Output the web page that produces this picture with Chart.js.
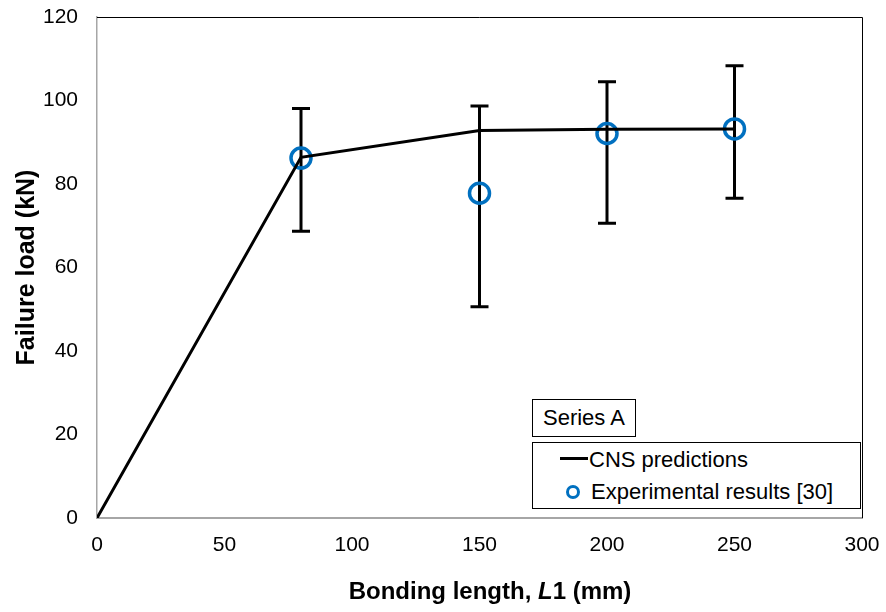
<!DOCTYPE html>
<html>
<head>
<meta charset="utf-8">
<script src="https://cdn.jsdelivr.net/npm/chart.js@4"></script>
<style>
  body { margin: 0; background: #fff; }
  #wrap { position: relative; width: 886px; height: 612px; font-family: "Liberation Sans", Arial, sans-serif; color: #000; }
  #chart { position: absolute; left: 0; top: 0; }
  .box { position: absolute; border: 1px solid #000; background: #fff; box-sizing: border-box; }
  .txt { position: absolute; font-size: 22px; line-height: 22px; white-space: nowrap; }
  #xtitle { position: absolute; left: 290px; width: 400px; top: 579px; text-align: center; font-size: 24px; line-height: 24px; font-weight: bold; }
</style>
</head>
<body>
<div id="wrap">
  <canvas id="chart" width="886" height="612"></canvas>
  <div class="box" style="left:532px;top:399px;width:104px;height:38px;"></div>
  <div class="txt" style="left:543px;top:407px;">Series A</div>
  <div class="box" style="left:532px;top:442px;width:329px;height:67px;"></div>
  <div style="position:absolute;left:560px;top:457px;width:28px;height:3px;background:#000;"></div>
  <div class="txt" style="left:589px;top:449px;">CNS predictions</div>
  <div style="position:absolute;left:566px;top:485px;width:14px;height:14px;border:3.5px solid #0070C0;border-radius:50%;box-sizing:border-box;"></div>
  <div class="txt" style="left:591px;top:481px;">Experimental results [30]</div>
  <div id="xtitle">Bonding length, <i>L</i>1 (mm)</div>
</div>
<script>
// valores
const cnsLength = [0, 80, 150, 200, 250];
const cnsLoad = [0, 86.4, 92.8, 93.1, 93.2];

const expLength = [80, 150, 200, 250];
const expLoad = [86.2, 77.8, 92.1, 93.2];
const errLow = [68.7, 50.6, 70.6, 76.6];
const errHigh = [98.1, 98.7, 104.5, 108.3];

const xMin = 0, xMax = 300, xStep = 50;
const yMin = 0, yMax = 120, yStep = 20;

// barras de erro e moldura da área do gráfico
const errorBars = {
    id: 'errorBars',
    beforeDatasetsDraw(chart) {
        const ctx = chart.ctx;
        const xs = chart.scales.x, ys = chart.scales.y;
        ctx.save();
        ctx.strokeStyle = '#000';
        ctx.lineWidth = 3;
        expLength.forEach((len, i) => {
            const px = xs.getPixelForValue(len);
            const top = ys.getPixelForValue(errHigh[i]);
            const bot = ys.getPixelForValue(errLow[i]);
            ctx.beginPath();
            ctx.moveTo(px, top); ctx.lineTo(px, bot);
            ctx.moveTo(px - 9, top); ctx.lineTo(px + 9, top);
            ctx.moveTo(px - 9, bot); ctx.lineTo(px + 9, bot);
            ctx.stroke();
        });
        ctx.restore();
    },
    afterDraw(chart) {
        const ctx = chart.ctx;
        const a = chart.chartArea;
        ctx.save();
        ctx.strokeStyle = '#000';
        ctx.lineWidth = 1;
        ctx.beginPath();
        ctx.moveTo(a.left, a.top + 0.5);
        ctx.lineTo(a.right + 0.5, a.top + 0.5);
        ctx.lineTo(a.right + 0.5, a.bottom);
        ctx.stroke();
        ctx.restore();
    }
};

const ctx = document.getElementById('chart').getContext('2d');
new Chart(ctx, {
    type: 'line',
    data: {
        datasets: [{
            label: 'CNS predictions',
            data: cnsLength.map((x, i) => ({ x: x, y: cnsLoad[i] })),
            borderColor: '#000',
            borderWidth: 3,
            pointRadius: 0,
            tension: 0
        }, {
            label: 'Experimental results [30]',
            data: expLength.map((x, i) => ({ x: x, y: expLoad[i] })),
            showLine: false,
            pointRadius: 10,
            pointBorderWidth: 3.5,
            pointBorderColor: '#0070C0',
            pointBackgroundColor: 'rgba(0,0,0,0)'
        }]
    },
    options: {
        responsive: false,
        animation: false,
        layout: { padding: { top: 17, right: 24, left: 0, bottom: 0 } },
        plugins: { legend: { display: false }, tooltip: { enabled: false } },
        scales: {
            x: {
                type: 'linear',
                min: xMin, max: xMax,
                ticks: { stepSize: xStep, padding: 15, color: '#000', font: { family: 'Liberation Sans', size: 21 } },
                grid: { drawOnChartArea: false, drawTicks: false },
                border: { color: '#A6A6A6', width: 2 },
                afterFit(scale) { scale.height = 94; scale.paddingLeft = 0; scale.paddingRight = 0; }
            },
            y: {
                min: yMin, max: yMax,
                ticks: { stepSize: yStep, padding: 19, color: '#000', font: { family: 'Liberation Sans', size: 21 } },
                grid: { drawOnChartArea: false, drawTicks: false },
                border: { color: '#A6A6A6', width: 1.5 },
                title: {
                    display: true,
                    text: 'Failure load (kN)',
                    color: '#000',
                    padding: { top: 12, bottom: 0 },
                    font: { family: 'Liberation Sans', size: 25, weight: 'bold' }
                },
                afterFit(scale) { scale.width = 97; scale.paddingTop = 0; scale.paddingBottom = 0; }
            }
        }
    },
    plugins: [errorBars]
});
</script>
</body>
</html>
